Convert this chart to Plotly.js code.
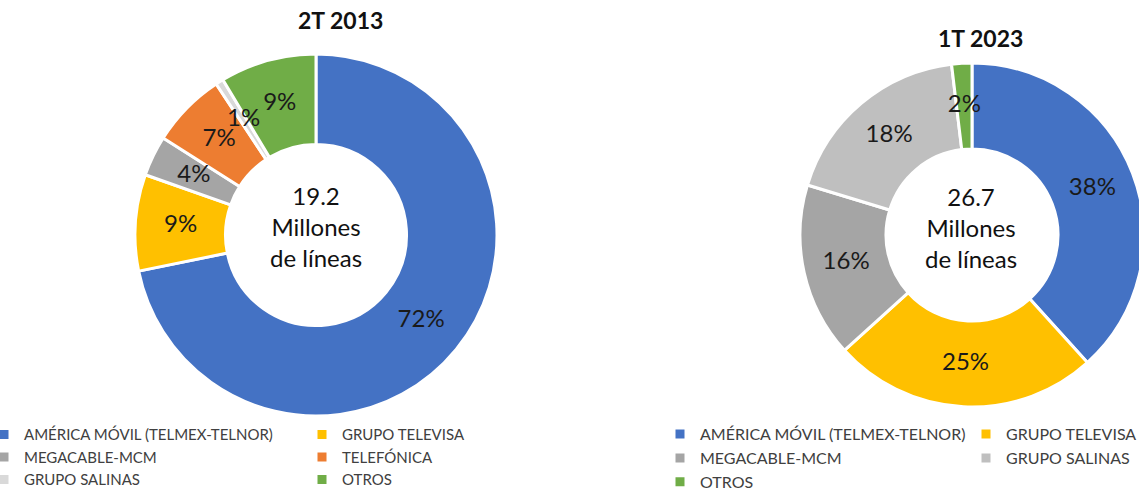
<!DOCTYPE html>
<html>
<head>
<meta charset="utf-8">
<script src="https://cdn.plot.ly/plotly-3.0.1.min.js"></script>
<style>
  html, body { margin: 0; padding: 0; width: 1139px; height: 492px; overflow: hidden; background: #fff; position: relative; }
  .lft { position: absolute; left: -16px; top: 0; width: 816px; height: 492px; }
  .rgt { position: absolute; left: 660px; top: 0; width: 800px; height: 492px; }
</style>
</head>
<body>
<div id="left" class="lft"></div>
<div id="right" class="rgt"></div>
<div id="leftLabels" class="lft"></div>
<div id="rightLabels" class="rgt"></div>
<script>
// ---- data ----
const labels2013 = ["AMÉRICA MÓVIL (TELMEX-TELNOR)", "GRUPO TELEVISA", "MEGACABLE-MCM", "TELEFÓNICA", "GRUPO SALINAS", "OTROS"];
const values2013 = [71.8, 8.6, 3.6, 6.7, 0.7, 8.6];
const colors2013 = ["#4472C4", "#FFC000", "#A5A5A5", "#ED7D31", "#D9D9D9", "#70AD47"];
const title2013 = "2T 2013";
const total2013 = "19.2<br>Millones<br>de líneas";

const labels2023 = ["AMÉRICA MÓVIL (TELMEX-TELNOR)", "GRUPO TELEVISA", "MEGACABLE-MCM", "GRUPO SALINAS", "OTROS"];
const values2023 = [38.3, 25.0, 16.4, 18.4, 1.9];
const colors2023 = ["#4472C4", "#FFC000", "#A5A5A5", "#BFBFBF", "#70AD47"];
const title2023 = "1T 2023";
const total2023 = "26.7<br>Millones<br>de líneas";

const FONT = "Lato, 'Open Sans', sans-serif";
const HOLE = 0.5;

function pieTrace(labels, values, colors, domain) {
  return {
    type: "pie",
    labels: labels,
    values: values,
    marker: { colors: colors, line: { color: "#ffffff", width: 3 } },
    hole: HOLE,
    sort: false,
    direction: "clockwise",
    rotation: 0,
    textinfo: "none",
    textposition: "none",
    domain: domain,
    hoverinfo: "label+percent"
  };
}

function pieLayout(titleText, titleX, titleY, centerText, centerX, centerY, entryW, legendSize, legendY) {
  return {
    margin: { l: 0, r: 0, t: 0, b: 0, autoexpand: false },
    paper_bgcolor: "rgba(0,0,0,0)",
    plot_bgcolor: "rgba(0,0,0,0)",
    showlegend: true,
    legend: {
      orientation: "h",
      x: 0, xanchor: "left",
      y: legendY, yanchor: "top",
      entrywidth: entryW,
      entrywidthmode: "pixels",
      font: { family: FONT, size: legendSize, color: "#404040" },
      bgcolor: "rgba(0,0,0,0)",
      traceorder: "normal"
    },
    annotations: [{
      text: "<b>" + titleText + "</b>",
      xref: "paper", yref: "paper",
      x: titleX, y: titleY, xanchor: "center", yanchor: "middle",
      showarrow: false,
      font: { family: FONT, size: 23, color: "#111111" }
    }, {
      text: centerText,
      xref: "paper", yref: "paper",
      x: centerX, y: centerY,
      xanchor: "center", yanchor: "middle",
      showarrow: false,
      font: { family: FONT, size: 24, color: "#111111" }
    }]
  };
}

// percentage labels placed at the middle of the ring, via a polar subplot sharing the pie's domain
function labelTrace(values) {
  const total = values.reduce((a, b) => a + b, 0);
  let cum = 0;
  const theta = [], text = [], r = [];
  values.forEach(v => {
    theta.push((cum + v / 2) / total * 360);
    cum += v;
    text.push(Math.round(v / total * 100) + "%");
    r.push((1 + HOLE) / 2);
  });
  return {
    type: "scatterpolar", mode: "text",
    theta: theta, r: r, text: text,
    textposition: "middle center",
    textfont: { family: FONT, size: 24, color: "#1a1a1a" },
    showlegend: false, hoverinfo: "skip", cliponaxis: false
  };
}

function labelLayout(domain) {
  return {
    margin: { l: 0, r: 0, t: 0, b: 0, autoexpand: false },
    paper_bgcolor: "rgba(0,0,0,0)",
    showlegend: false,
    polar: {
      domain: domain,
      bgcolor: "rgba(0,0,0,0)",
      angularaxis: { rotation: 90, direction: "clockwise", visible: false },
      radialaxis: { range: [0, 1], visible: false }
    }
  };
}

const config = { displayModeBar: false, staticPlot: true };

const dom2013 = { x: [151/816, 513/816], y: [76/492, 438/492] };
const dom2023 = { x: [140/800, 484/800], y: [85/492, 429/492] };

Plotly.newPlot("left", [pieTrace(labels2013, values2013, colors2013, dom2013)],
  pieLayout(title2013, (340+16)/816, 1 - 20/492, total2013, (316+16)/816, 1 - 226/492, 273, 15, 0.150), config);
Plotly.newPlot("right", [pieTrace(labels2023, values2023, colors2023, dom2023)],
  pieLayout(title2023, (980-660)/800, 1 - 38/492, total2023, (971-660)/800, 1 - 227/492, 261, 16, 0.152), config);

Plotly.newPlot("leftLabels", [labelTrace(values2013)], labelLayout(dom2013), config);
Plotly.newPlot("rightLabels", [labelTrace(values2023)], labelLayout(dom2023), config);
</script>
</body>
</html>
